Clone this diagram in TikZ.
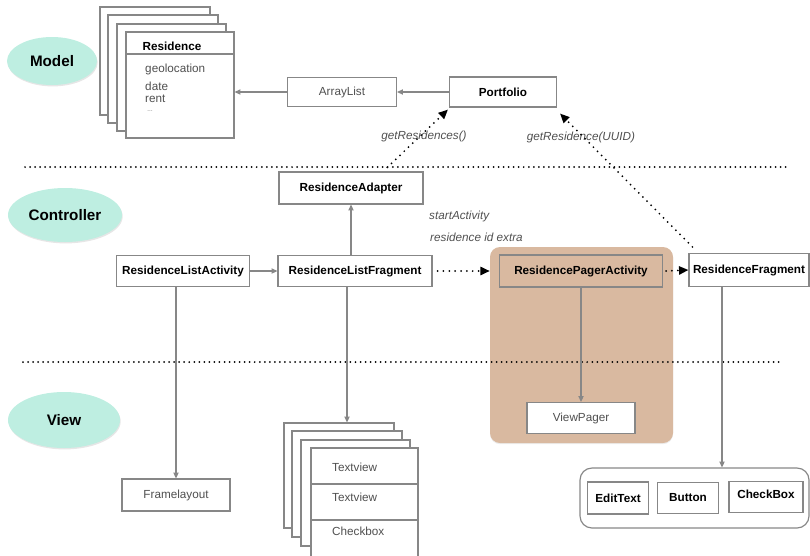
\documentclass[tikz,border=0pt]{standalone}
\usepackage{fontspec}
\setmainfont{Liberation Sans}
\usepackage{tikz}
\usetikzlibrary{
    shapes.geometric,
    arrows.meta,
    positioning,
    calc,
    shadows
}

\definecolor{layerfill}{RGB}{190,238,225}
\definecolor{pagerfill}{RGB}{217,185,160}
\definecolor{linegray}{RGB}{135,135,135}
\definecolor{textgray}{RGB}{80,80,80}

\begin{document}
\begin{tikzpicture}[
    x=0.03cm, y=-0.03cm,
    font=\fontsize{10}{12}\selectfont,
    layer/.style={ellipse, fill=layerfill, draw=none, font=\fontsize{13}{15}\selectfont\bfseries,
        drop shadow={shadow xshift=0.6pt, shadow yshift=-1.2pt, opacity=0.2}},
    box/.style={rectangle, draw=linegray, line width=1pt, fill=white, inner sep=1pt, font=\fontsize{10}{12}\selectfont\bfseries},
    plainbox/.style={box, font=\fontsize{10}{12}\selectfont, text=textgray},
    arrow/.style={-{Triangle[length=5pt,width=4.5pt]}, linegray, line width=1pt},
    call/.style={-{Triangle[length=8pt,width=7pt]}, black, line width=1.7pt,
        dash pattern=on 0pt off 5pt, line cap=round},
    sep/.style={black, line width=1.7pt, dash pattern=on 0pt off 4.3pt, line cap=round},
    note/.style={font=\fontsize{10}{12}\selectfont\itshape, text=textgray}
]
    \useasboundingbox (0,0) rectangle (810,555);

    % Pager background
    \node (pagerbg) [rectangle, rounded corners=0.3cm, fill=pagerfill, minimum width=5.49cm, minimum height=5.88cm,
        drop shadow={shadow xshift=0pt, shadow yshift=-1pt, opacity=0.15}] at (581.5,345) {};

    % Layers
    \node (model) [layer, minimum width=2.7cm, minimum height=1.44cm] at (52,61) {Model};
    \node (controller) [layer, minimum width=3.42cm, minimum height=1.62cm] at (65,215) {Controller};
    \node (view) [layer, minimum width=3.36cm, minimum height=1.68cm] at (64,420) {View};

    \draw [sep] (25,167) -- (787,167);
    \draw [sep] (23,362) -- (782,362);

    % Model
    \draw [linegray, line width=1pt, fill=white] (100,7) rectangle (210,115);
    \draw [linegray, line width=1pt, fill=white] (108,15) rectangle (218,123);
    \draw [linegray, line width=1pt, fill=white] (117,24) rectangle (226,131);
    \node (residence) [box, minimum width=3.24cm, minimum height=3.18cm] at (180,85) {};
    \draw [linegray, line width=1pt] (residence.west |- 0,54) -- (residence.east |- 0,54);
    \node (restitle) [font=\fontsize{10}{12}\selectfont\bfseries] at (172,46) {Residence};
    \node (geo) [anchor=west, inner sep=0pt, text=textgray] at (145,69) {geolocation};
    \node (date) [anchor=west, inner sep=0pt, text=textgray] at (145,86) {date};
    \node (rent) [anchor=west, inner sep=0pt, text=textgray] at (145,99) {rent};
    \node (more) [anchor=west, inner sep=0pt, text=textgray, font=\tiny] at (147,111) {\dots};

    \node (arraylist) [plainbox, minimum width=3.27cm, minimum height=0.87cm] at (342,92) {ArrayList};
    \node (portfolio) [box, minimum width=3.21cm, minimum height=0.9cm] at (503,92) {Portfolio};

    % Controller
    \node (adapter) [box, minimum width=4.32cm, minimum height=0.96cm] at (351,188) {ResidenceAdapter};
    \node (listact) [box, minimum width=3.99cm, minimum height=0.93cm] at (183,271) {ResidenceListActivity};
    \node (listfrag) [box, minimum width=4.62cm, minimum height=0.93cm] at (355,271) {ResidenceListFragment};
    \node (pager) [box, fill=pagerfill, minimum width=4.89cm, minimum height=0.96cm] at (581,271) {ResidencePagerActivity};
    \node (resfrag) [box, minimum width=3.6cm, minimum height=0.99cm] at (749,270) {ResidenceFragment};

    \node (startact) [note, anchor=west, inner sep=0pt] at (429,216) {startActivity};
    \node (idextra) [note, anchor=west, inner sep=0pt] at (430,237) {residence id extra};
    \node (getall) [note] at (424,136) {getResidences()};
    \node (getone) [note] at (581,137) {getResidence(UUID)};

    % View
    \node (viewpager) [plainbox, minimum width=3.24cm, minimum height=0.93cm] at (581,418) {ViewPager};
    \node (framelayout) [plainbox, minimum width=3.24cm, minimum height=0.96cm] at (176,495) {Framelayout};

    \node (stackA) [box, minimum width=3.3cm, minimum height=3.15cm] at (339,475.5) {};
    \node (stackB) [box, minimum width=3.3cm, minimum height=3.18cm] at (347,484) {};
    \node (stackC) [box, minimum width=3.27cm, minimum height=3.18cm] at (355.5,493) {};
    \node (rows) [box, minimum width=3.21cm, minimum height=3.66cm] at (364.5,509) {};
    \draw [linegray, line width=1pt] (rows.west |- 0,484) -- (rows.east |- 0,484);
    \draw [linegray, line width=1pt] (rows.west |- 0,520) -- (rows.east |- 0,520);
    \node (row1) [anchor=west, inner sep=0pt, text=textgray] at (332,467) {Textview};
    \node (row2) [anchor=west, inner sep=0pt, text=textgray] at (332,497) {Textview};
    \node (row3) [anchor=west, inner sep=0pt, text=textgray] at (332,531) {Checkbox};

    \node (widgets) [rectangle, draw=linegray, line width=1pt, rounded corners=0.36cm, minimum width=6.87cm, minimum height=1.8cm] at (694.5,498) {};
    \node (edittext) [box, minimum width=1.83cm, minimum height=0.96cm] at (618,498) {EditText};
    \node (button) [box, minimum width=1.83cm, minimum height=0.93cm] at (688,498) {Button};
    \node (checkbox) [box, minimum width=2.22cm, minimum height=0.93cm, text depth=4pt] at (766,497) {CheckBox};

    % Connectors
    \draw [arrow] (arraylist.west) -- (arraylist.west -| residence.east);
    \draw [arrow] (portfolio.west) -- (arraylist.east);
    \draw [arrow] (listact.east) -- (listfrag.west);
    \draw [arrow] (listfrag.north -| adapter.south) -- (adapter.south);
    \draw [arrow] (framelayout.north |- listact.south) -- (framelayout.north);
    \draw [arrow] ([xshift=-0.24cm]listfrag.south) -- ([xshift=-0.24cm]listfrag.south |- stackA.north);
    \draw [arrow] (pager.south) -- (viewpager.north);
    \draw [arrow] ([xshift=-0.81cm]resfrag.south) -- ([xshift=-0.81cm]resfrag.south |- widgets.north);

    % Calls
    \draw [call] (listfrag.east) ++(5,0) -- (listfrag.east -| pagerbg.west);
    \draw [call] (pager.east) ++(3,0) -- (resfrag.west);
    \draw [call] ($(adapter.north)!0.5!(adapter.north east)$) ++(0,-4) -- ([shift={(-1,2)}]portfolio.south west);
    \draw [call] ([shift={(4,-6)}]resfrag.north west) -- ([shift={(3,6)}]portfolio.south east);

\end{tikzpicture}
\end{document}
